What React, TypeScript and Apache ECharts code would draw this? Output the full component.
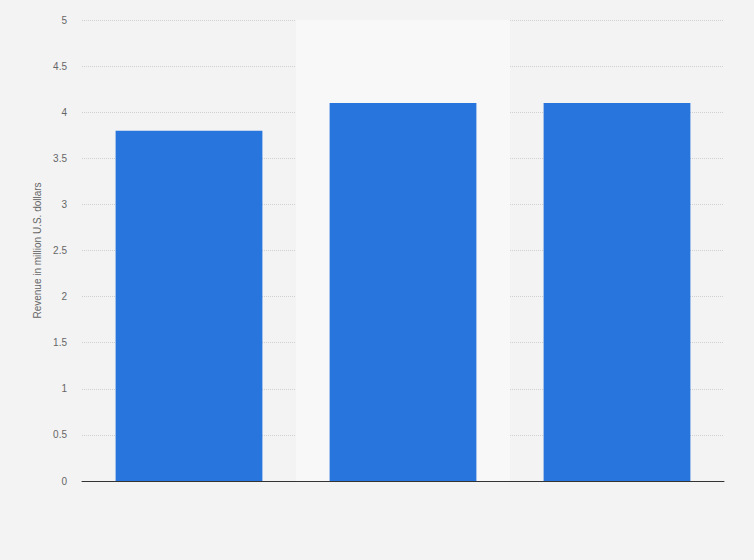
import * as echarts from 'echarts';
import { useEffect, useRef } from 'react';

const categories = ['2019', '2020', '2021'];
const revenue = [3.8, 4.1, 4.1];
const yTicks = { min: 0, max: 5, interval: 0.5 };

export default function App() {
    const chartRef = useRef<HTMLDivElement>(null);

    useEffect(() => {
        if (!chartRef.current) return;
        document.body.style.margin = '0';

        const chart = echarts.init(chartRef.current, undefined, { renderer: 'svg' });

        const option: echarts.EChartsOption = {
            animation: false,
            backgroundColor: '#f3f3f3',
            textStyle: { fontFamily: '"Liberation Sans", Arial, sans-serif' },
            grid: { left: 82, right: 30, top: 20, bottom: 79 },
            xAxis: {
                type: 'category',
                data: categories,
                axisLine: { lineStyle: { color: '#333', width: 1 } },
                axisTick: { show: false },
                axisLabel: { show: false },
                splitArea: {
                    show: true,
                    areaStyle: { color: ['rgba(0,0,0,0)', '#f8f8f8'] },
                },
            },
            yAxis: {
                type: 'value',
                min: yTicks.min,
                max: yTicks.max,
                interval: yTicks.interval,
                name: 'Revenue in million U.S. dollars',
                nameLocation: 'middle',
                nameGap: 38,
                nameTextStyle: { color: '#666', fontSize: 10 },
                axisLine: { show: false },
                axisTick: { show: false },
                axisLabel: { color: '#666', fontSize: 10, margin: 15 },
                splitLine: { lineStyle: { color: '#d0d0d0', type: [1, 1] } },
            },
            series: [
                {
                    type: 'bar',
                    data: revenue,
                    barWidth: '68.6%',
                    itemStyle: { color: '#2876dd' },
                },
            ],
        };

        chart.setOption(option);

        return () => {
            chart.dispose();
        };
    }, []);

    return <div ref={chartRef} style={{ width: '754px', height: '560px' }} />;
}
